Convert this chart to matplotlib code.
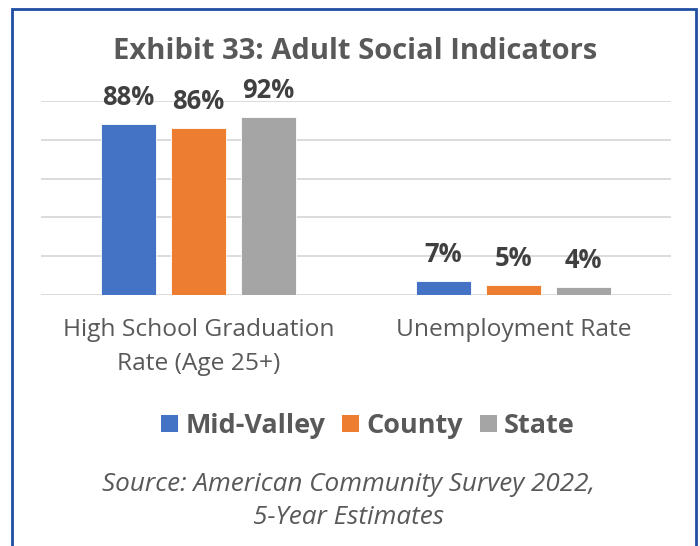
import matplotlib
matplotlib.use("Agg")
import matplotlib.pyplot as plt
from matplotlib.patches import Rectangle
import numpy as np

# ---- data ----
categories = ["High School Graduation\nRate (Age 25+)", "Unemployment Rate"]
series_names = ["Mid-Valley", "County", "State"]
mid_valley = [88, 7]
county = [86, 5]
state = [92, 4]
colors = ["#4472C4", "#ED7D31", "#A5A5A5"]
title = "Exhibit 33: Adult Social Indicators"
source_lines = ["Source: American Community Survey 2022,", "5-Year Estimates"]

W, H = 700, 546
FONT = "Open Sans"
fig = plt.figure(figsize=(W / 100, H / 100), dpi=100)
fig.patch.set_facecolor("white")


def px(v):
    return v * 72 / 100


def fit(t, target, n=3):
    for _ in range(n):
        fig.canvas.draw()
        w = t.get_window_extent().width
        t.set_fontsize(t.get_fontsize() * target / w)
    return t.get_fontsize()


# border
fig.patches.append(Rectangle((12 / W, -0.1), 684 / W, 1.1 - 9 / H, transform=fig.transFigure,
                             fill=False, edgecolor="#1f4ea3", lw=2.0, zorder=10))

ax = fig.add_axes([41 / W, 1 - 295 / H, 630 / W, 194 / H])
x = np.arange(len(categories))
width = 0.175
step = 0.2225
labels_art = []
for i, (name, vals, c) in enumerate(zip(series_names, [mid_valley, county, state], colors)):
    bars = ax.bar(x + (i - 1) * step, vals, width, color=c, label=name, zorder=3,
                  edgecolor="white", linewidth=0.6)
    for b, v in zip(bars, vals):
        a = ax.annotate(f"{v}%", (b.get_x() + b.get_width() / 2, v), xytext=(0, px(19)),
                        textcoords="offset points", ha="center", va="baseline",
                        fontsize=18, fontweight="bold", color="#404040", family=FONT,
                        annotation_clip=False)
        labels_art.append(a)

ax.set_xlim(-0.5, 1.5)
ax.set_ylim(0, 100)
ax.set_yticks(np.arange(0, 101, 20))
ax.yaxis.grid(True, color="#d9d9d9", lw=1.3, zorder=0)
ax.set_axisbelow(True)
ax.tick_params(axis="y", length=0, labelleft=False)
ax.tick_params(axis="x", length=0, pad=px(23))
for s in ax.spines.values():
    s.set_visible(False)
ax.set_xticks(x)
ax.set_xticklabels(categories, family=FONT, color="#595959", fontsize=16, linespacing=1.55)
ax.set_facecolor("none")

# fit sizes
fs_lab = fit(labels_art[0], 52)
for a in labels_art:
    a.set_fontsize(fs_lab)

fig.canvas.draw()
tl = ax.get_xticklabels()
fs_cat = fit(tl[0], 271)
for t in tl:
    t.set_fontsize(fs_cat)

t_title = fig.text(355.5 / W, 1 - 59 / H, title, ha="center", va="baseline",
                   fontsize=18, fontweight="bold", color="#595959", family=FONT)
fit(t_title, 485)

# legend
tmp = fig.text(0.5, 0.5, "Mid-Valley", fontsize=18, fontweight="bold", family=FONT)
fs_leg = fit(tmp, 140)
tmp.remove()
em = fs_leg * 100 / 72
handles, labs = ax.get_legend_handles_labels()
leg = fig.legend(handles, labs, loc="center", bbox_to_anchor=(368 / W, 1 - 426 / H),
                 ncol=3, frameon=False, handlelength=17 / em, handleheight=17 / em,
                 handletextpad=7 / em, columnspacing=17 / em,
                 borderpad=0, prop={"family": FONT, "weight": "bold", "size": fs_leg})
for t in leg.get_texts():
    t.set_color("#595959")
for h in leg.legend_handles:
    h.set_edgecolor("none")

s1 = fig.text(348.5 / W, 1 - 491 / H, source_lines[0], ha="center", va="baseline",
              fontsize=16, style="italic", color="#595959", family=FONT)
fs_src = fit(s1, 495)
s2 = fig.text(348.5 / W, 1 - 524 / H, source_lines[1], ha="center", va="baseline",
              fontsize=fs_src, style="italic", color="#595959", family=FONT)

fig.savefig("out.png", dpi=100, facecolor="white")
